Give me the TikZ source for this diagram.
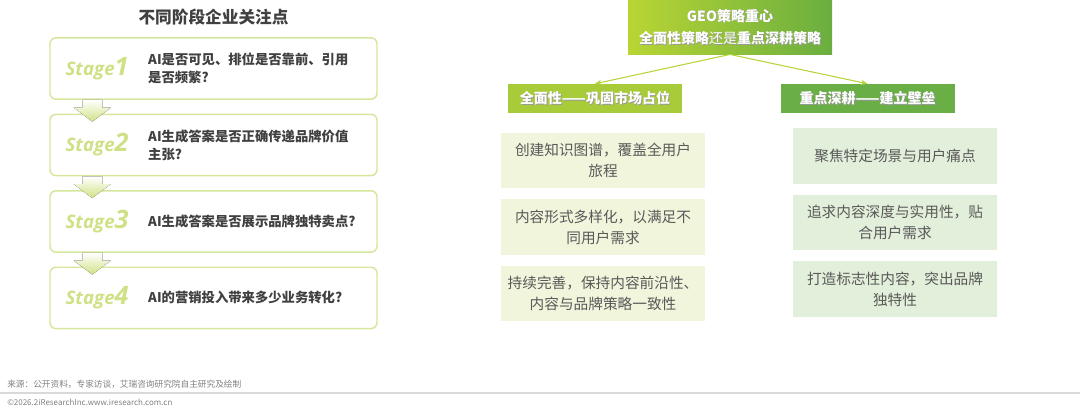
\documentclass[tikz,border=0pt]{standalone}
\usepackage{fontspec}
\setmainfont{Noto Sans CJK SC}
\newfontfamily\stagefont{Open Sans}
\usepackage{tikz}
\usetikzlibrary{arrows.meta,positioning,calc}

\definecolor{stageline}{HTML}{D5E79C}
\definecolor{stagetxt}{HTML}{CFE185}
\definecolor{arrowgreen}{HTML}{CFE284}
\definecolor{qgray}{HTML}{404040}
\definecolor{bodygray}{HTML}{595959}
\definecolor{geoA}{HTML}{B9D534}
\definecolor{geoB}{HTML}{6AAE3F}
\definecolor{fullhead}{HTML}{A8CB39}
\definecolor{deephead}{HTML}{6AAE46}
\definecolor{fullfill}{HTML}{F0F5DB}
\definecolor{deepfill}{HTML}{E2EFDA}
\definecolor{linkgreen}{HTML}{B6D43A}
\definecolor{footgray}{HTML}{808080}

% white text with a soft drop shadow
\newcommand\shadowed[1]{\makebox[0pt][l]{\hspace{0.6pt}\raisebox{-0.6pt}{\color{black!40}#1}}#1}
% block arrow between two stage boxes
\newcommand\stagearrow[2]{%
  \fill[top color=white, bottom color=arrowgreen]
    let \p1=($(#1.south west)+(43,0)$), \p2=(#2.north) in
    (\x1-7.5pt,\y1) -- (\x1+7.5pt,\y1) -- (\x1+7.5pt,\y2+4.5pt) -- (\x1+14pt,\y2+4.5pt)
    -- (\x1,\y2-6pt) -- (\x1-14pt,\y2+4.5pt) -- (\x1-7.5pt,\y2+4.5pt) -- cycle;}

\begin{document}
\begin{tikzpicture}[x=0.75pt, y=-0.75pt, node distance=10.25pt, >={Stealth[length=5pt,width=4pt]},
  stagebox/.style={draw=stageline, line width=1.1pt, rounded corners=4.5pt, fill=white, minimum width=245.25pt, minimum height=46pt},
  stagelbl/.style={inner sep=0pt, text=stagetxt, font=\stagefont\bfseries\itshape\fontsize{14}{14}\selectfont},
  question/.style={inner sep=0pt, align=left, text=qgray, font=\bfseries\fontsize{10}{13.5}\selectfont},
  headbox/.style={text=white, font=\bfseries\fontsize{10.5}{17}\selectfont, minimum width=130.5pt, minimum height=21.75pt, inner sep=0pt},
  itembox/.style={align=center, text=bodygray, font=\fontsize{11}{15.75}\selectfont, minimum width=153pt, minimum height=41.5pt, inner sep=0pt},
  link/.style={draw=linkgreen, line width=0.8pt, ->}]
\useasboundingbox (0,0) rectangle (1080,412);

% left column: stages
\node[text=qgray, font=\bfseries\fontsize{12.5}{15}\selectfont] (title) at (213.5,17) {不同阶段企业关注点};
\node[stagebox] (s1) at (213.5,68.5) {};
\node[stagebox, below=of s1] (s2) {};
\node[stagebox, below=of s2] (s3) {};
\node[stagebox, below=of s3] (s4) {};
\stagearrow{s1}{s2}
\stagearrow{s2}{s3}
\stagearrow{s3}{s4}
\node[stagelbl, right=12pt of s1.west] (l1) {Stage{\fontsize{19}{19}\selectfont 1}};
\node[stagelbl, right=12pt of s2.west] (l2) {Stage{\fontsize{19}{19}\selectfont 2}};
\node[stagelbl, right=12pt of s3.west] (l3) {Stage{\fontsize{19}{19}\selectfont 3}};
\node[stagelbl, right=12pt of s4.west] (l4) {Stage{\fontsize{19}{19}\selectfont 4}};
\node[question, right=74pt of s1.west] (q1) {AI是否可见、排位是否靠前、引用\\是否频繁?};
\node[question, right=74pt of s2.west] (q2) {AI生成答案是否正确传递品牌价值\\主张?};
\node[question, right=74pt of s3.west] (q3) {AI生成答案是否展示品牌独特卖点?};
\node[question, right=74pt of s4.west] (q4) {AI的营销投入带来多少业务转化?};

% right part: strategy tree
\node[left color=geoA, right color=geoB, text=white, align=center, minimum width=153pt, minimum height=40pt, inner sep=0pt,
  font=\bfseries\fontsize{10.5}{17}\selectfont] (geo) at (730,27.5)
  {\shadowed{GEO策略重心}\\\shadowed{全面性策略{\mdseries 还是}重点深耕策略}};
\node[headbox, fill=fullhead] (full) at (595,98.5) {\shadowed{全面性——巩固市场占位}};
\node[headbox, fill=deephead] (deep) at (867.5,98.5) {\shadowed{重点深耕——建立壁垒}};
\draw[link] (geo.south) -- (full.north);
\draw[link] (geo.south) -- (deep.north);

\node[itembox, fill=fullfill] (a1) at (603,160.5) {创建知识图谱，覆盖全用户\\旅程};
\node[itembox, fill=fullfill, below=8pt of a1] (a2) {内容形式多样化，以满足不\\同用户需求};
\node[itembox, fill=fullfill, below=8pt of a2] (a3) {持续完善，保持内容前沿性、\\内容与品牌策略一致性};
\node[itembox, fill=deepfill] (b1) at (895,156) {聚焦特定场景与用户痛点};
\node[itembox, fill=deepfill, below=8pt of b1] (b2) {追求内容深度与实用性，贴\\合用户需求};
\node[itembox, fill=deepfill, below=8pt of b2] (b3) {打造标志性内容，突出品牌\\独特性};

% footer
\node[anchor=west, inner sep=0pt, text=footgray, font=\fontsize{6.5}{8}\selectfont] (src) at (7,384) {来源：公开资料，专家访谈，艾瑞咨询研究院自主研究及绘制};
\draw[draw=black!15, line width=0.8pt] (0,393) -- (1080,393);
\node[anchor=west, inner sep=0pt, text=footgray, font=\fontsize{6}{7}\selectfont] (copy) at (7,402) {©2026.2iResearchInc.www.iresearch.com.cn};
\end{tikzpicture}
\end{document}
